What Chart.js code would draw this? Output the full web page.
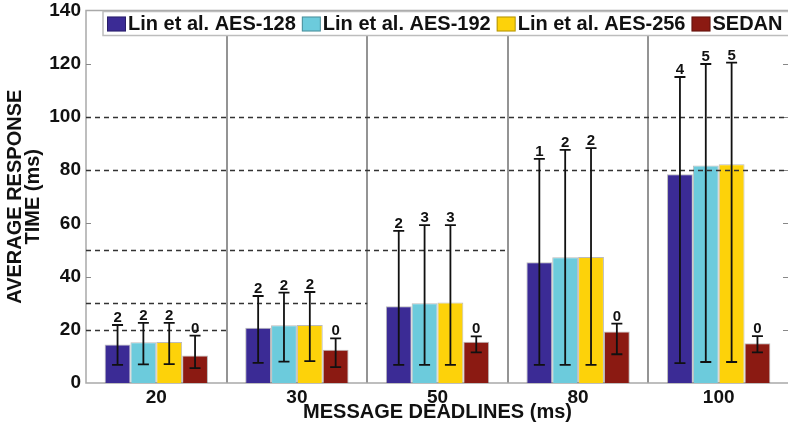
<!DOCTYPE html>
<html>
<head>
<meta charset="utf-8">
<script src="https://cdn.jsdelivr.net/npm/chart.js@4"></script>
<style>
html, body { margin: 0; padding: 0; background: #fff; overflow: hidden; }
#wrap { width: 788px; height: 429px; overflow: hidden; }
</style>
</head>
<body>
<div id="wrap"><canvas id="delays" width="792" height="429"></canvas></div>
<script>
const deadlines = ["20", "30", "50", "80", "100"];
const seriesNames = ["Lin et al. AES-128", "Lin et al. AES-192", "Lin et al. AES-256", "SEDAN"];
const seriesColors = ["#3b2b95", "#6ccbdc", "#fdd20a", "#8b1a12"];

const aes128 = [14.5, 20.8, 28.8, 45.4, 78.5];
const aes192 = [15.3, 21.7, 30.0, 47.3, 81.7];
const aes256 = [15.4, 21.8, 30.3, 47.4, 82.2];
const sedan  = [10.3, 12.5, 15.5, 19.4, 14.9];

// error bar ends
const aes128Low  = [6.8, 7.6, 6.8, 6.8, 7.5];
const aes128High = [21.8, 32.7, 57.2, 84.2, 115.0];
const aes192Low  = [7.0, 8.0, 6.8, 6.8, 7.9];
const aes192High = [22.6, 34.0, 59.3, 87.6, 119.9];
const aes256Low  = [7.1, 8.2, 6.8, 6.8, 7.9];
const aes256High = [22.6, 34.2, 59.3, 88.3, 120.4];
const sedanLow   = [5.6, 6.0, 11.5, 10.8, 11.5];
const sedanHigh  = [17.8, 16.8, 17.5, 22.3, 17.6];

// deadline misses, written above each error bar
const aes128Miss = [2, 2, 2, 1, 4];
const aes192Miss = [2, 2, 3, 2, 5];
const aes256Miss = [2, 2, 3, 2, 5];
const sedanMiss  = [0, 0, 0, 0, 0];

// dashed deadline levels and the last group each one runs through
const deadlineLevels = [20, 30, 50, 80, 100];
const deadlineReach  = [0, 1, 2, 4, 4];

Chart.defaults.font.family = '"Liberation Sans", Arial, Helvetica, sans-serif';
Chart.defaults.color = "#111";

const extras = {
  id: "extras",
  beforeDatasetsDraw(chart) {
    const ctx = chart.ctx, a = chart.chartArea, ys = chart.scales.y;
    const step = a.width / deadlines.length;
    ctx.save();
    // group separators
    ctx.strokeStyle = "#707070";
    ctx.lineWidth = 1.5;
    for (let i = 1; i < deadlines.length; i++) {
      const px = Math.round(a.left + i * step);
      ctx.beginPath();
      ctx.moveTo(px, a.top);
      ctx.lineTo(px, a.bottom);
      ctx.stroke();
    }
    // frame
    ctx.strokeStyle = "#a9a9a9";
    ctx.beginPath();
    ctx.moveTo(a.right, a.top);
    ctx.lineTo(a.left, a.top);
    ctx.lineTo(a.left, a.bottom);
    ctx.lineTo(a.right, a.bottom);
    ctx.stroke();
    // small inner ticks on both sides
    ctx.strokeStyle = "#888";
    ctx.lineWidth = 1;
    for (let v = 20; v < 140; v += 20) {
      const py = Math.round(ys.getPixelForValue(v)) + 0.5;
      ctx.beginPath();
      ctx.moveTo(a.left, py); ctx.lineTo(a.left + 5, py);
      ctx.moveTo(a.right - 6, py); ctx.lineTo(a.right, py);
      ctx.stroke();
    }
    ctx.restore();
  },
  afterDatasetsDraw(chart) {
    const ctx = chart.ctx, a = chart.chartArea, ys = chart.scales.y;
    const step = a.width / deadlines.length;
    ctx.save();

    // deadline lines
    ctx.strokeStyle = "#333";
    ctx.lineWidth = 1.3;
    ctx.setLineDash([5, 4]);
    deadlineLevels.forEach((lvl, i) => {
      const py = Math.round(ys.getPixelForValue(lvl)) + 0.5;
      ctx.beginPath();
      ctx.moveTo(a.left, py);
      ctx.lineTo(a.left + (deadlineReach[i] + 1) * step, py);
      ctx.stroke();
    });
    ctx.setLineDash([]);

    // error bars with miss counts
    ctx.strokeStyle = "#111";
    ctx.fillStyle = "#111";
    ctx.lineWidth = 1.8;
    ctx.font = 'bold 15px "Liberation Sans", Arial, sans-serif';
    ctx.textAlign = "center";
    ctx.textBaseline = "alphabetic";
    chart.data.datasets.forEach((ds, d) => {
      chart.getDatasetMeta(d).data.forEach((bar, i) => {
        const lo = ys.getPixelForValue(ds.low[i]);
        const hi = ys.getPixelForValue(ds.high[i]);
        ctx.beginPath();
        ctx.moveTo(bar.x, lo); ctx.lineTo(bar.x, hi);
        ctx.moveTo(bar.x - 5.5, lo); ctx.lineTo(bar.x + 5.5, lo);
        ctx.moveTo(bar.x - 5.5, hi); ctx.lineTo(bar.x + 5.5, hi);
        ctx.stroke();
        ctx.fillText(String(ds.miss[i]), bar.x, hi - 3);
      });
    });

    // legend box across the top of the plot
    const top = a.top + 1;
    ctx.fillStyle = "#fff";
    ctx.fillRect(103, top, chart.width, 24);
    ctx.strokeStyle = "#bdbdbd";
    ctx.lineWidth = 1.5;
    ctx.strokeRect(103, top, chart.width, 24);
    ctx.font = 'bold 20px "Liberation Sans", Arial, sans-serif';
    ctx.textAlign = "left";
    ctx.textBaseline = "middle";
    let lx = 107;
    chart.data.datasets.forEach((ds) => {
      ctx.fillStyle = ds.backgroundColor;
      ctx.fillRect(lx, top + 5, 19, 15);
      ctx.strokeStyle = "rgba(0,0,0,0.3)";
      ctx.lineWidth = 1;
      ctx.strokeRect(lx + 0.5, top + 5.5, 18, 14);
      ctx.fillStyle = "#111";
      ctx.fillText(ds.label, lx + 21, top + 13);
      lx += 21 + ctx.measureText(ds.label).width + 6;
    });
    ctx.restore();
  }
};

new Chart("delays", {
  type: "bar",
  data: {
    labels: deadlines,
    datasets: [
      { label: seriesNames[0], data: aes128, low: aes128Low, high: aes128High, miss: aes128Miss, backgroundColor: seriesColors[0] },
      { label: seriesNames[1], data: aes192, low: aes192Low, high: aes192High, miss: aes192Miss, backgroundColor: seriesColors[1] },
      { label: seriesNames[2], data: aes256, low: aes256Low, high: aes256High, miss: aes256Miss, backgroundColor: seriesColors[2] },
      { label: seriesNames[3], data: sedan, low: sedanLow, high: sedanHigh, miss: sedanMiss, backgroundColor: seriesColors[3] }
    ]
  },
  options: {
    responsive: false,
    animation: false,
    layout: { padding: { left: 0, right: 3, top: 0, bottom: 0 } },
    datasets: {
      bar: { categoryPercentage: 0.735, barPercentage: 1, borderWidth: 1, borderColor: "rgba(30,30,30,0.3)" }
    },
    plugins: {
      legend: { display: false },
      tooltip: { enabled: false }
    },
    scales: {
      x: {
        grid: { display: false, drawTicks: false },
        border: { display: false },
        ticks: { color: "#111", padding: 3, font: { size: 19, weight: "bold" } },
        title: {
          display: true,
          text: "MESSAGE DEADLINES (ms)",
          color: "#111",
          font: { size: 20, weight: "bold", lineHeight: 1 },
          padding: { top: 0, bottom: 7 }
        },
        afterFit(s) { s.height = 46; }
      },
      y: {
        min: 0,
        max: 140,
        grid: { display: false, drawTicks: false },
        border: { display: false },
        ticks: { stepSize: 20, color: "#111", padding: 5, font: { size: 19, weight: "bold" } },
        title: {
          display: true,
          text: ["AVERAGE RESPONSE", "TIME (ms)"],
          color: "#111",
          font: { size: 20, weight: "bold", lineHeight: 0.9 },
          padding: { top: 6, bottom: 0 }
        },
        afterFit(s) { s.width = 86; s.paddingTop = 10.5; }
      }
    }
  },
  plugins: [extras]
});
</script>
</body>
</html>
